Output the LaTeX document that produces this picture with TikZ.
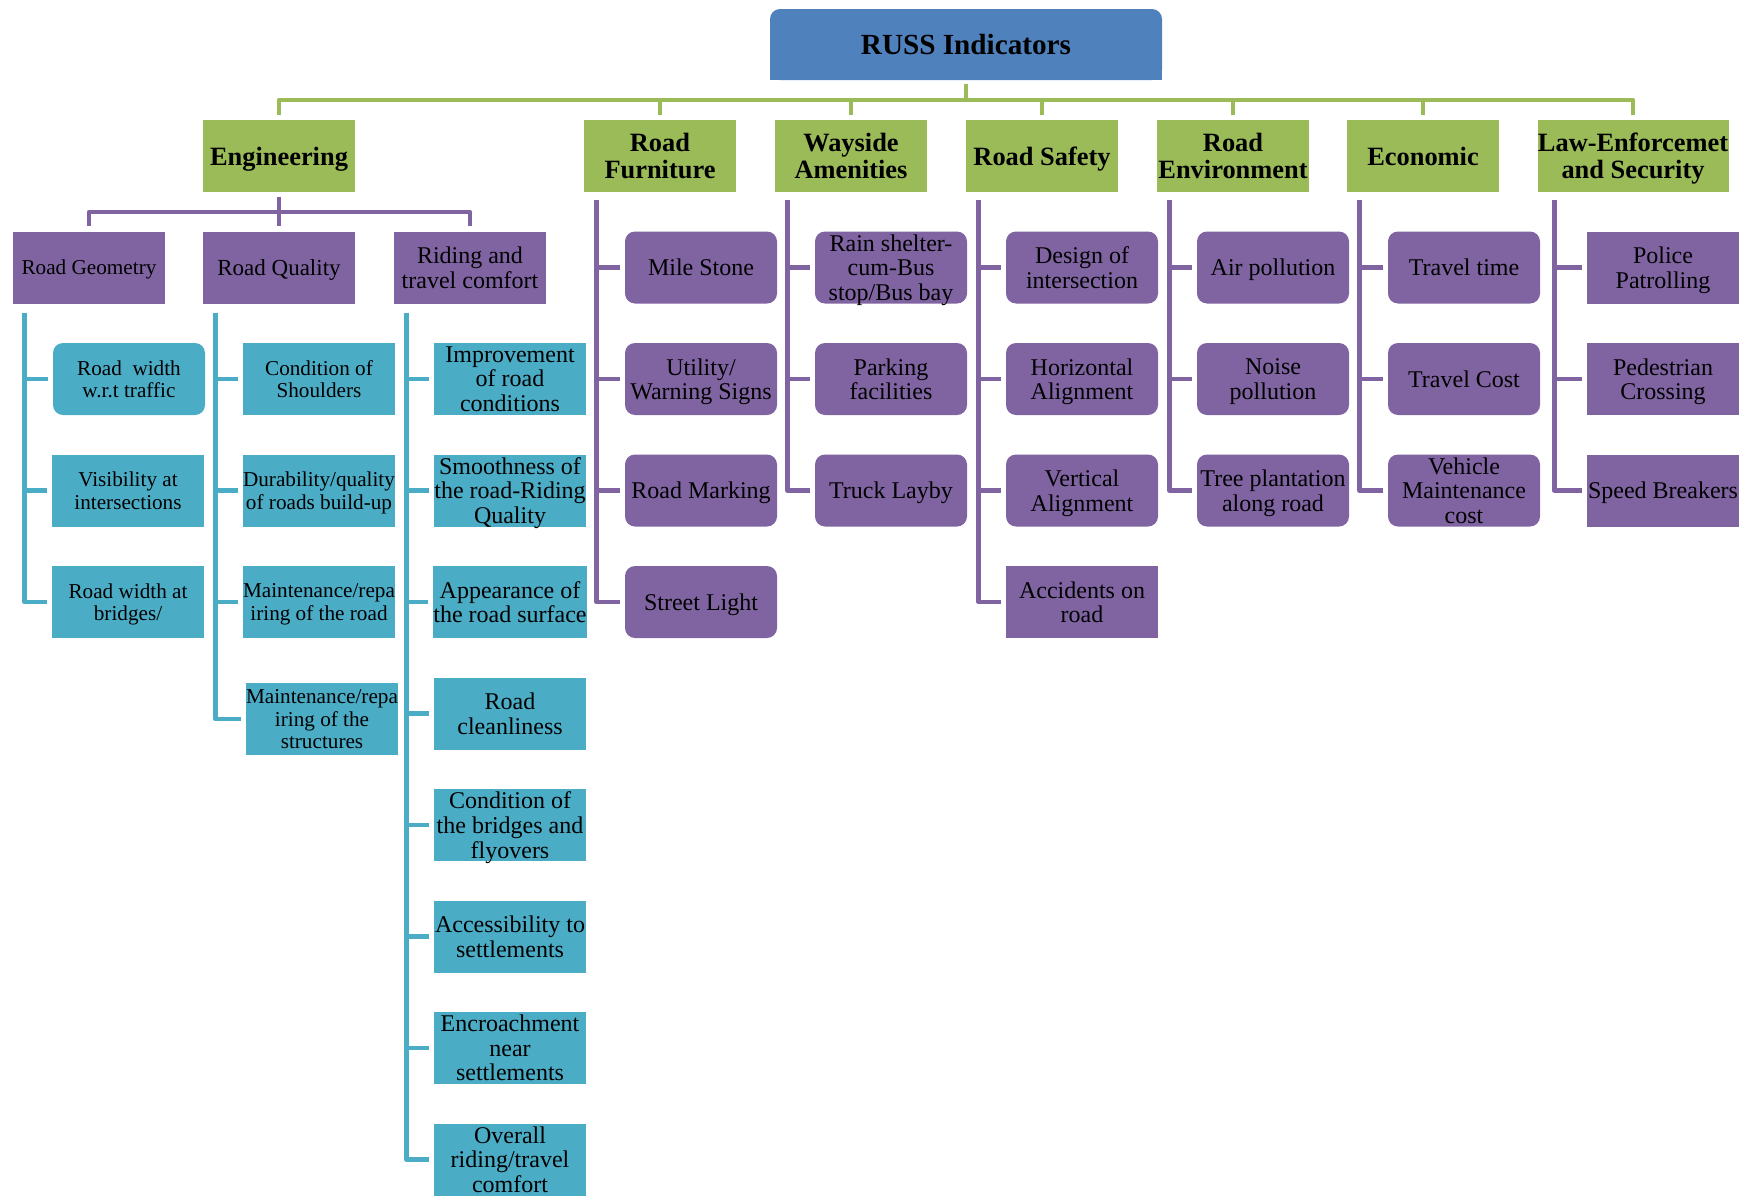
\documentclass[tikz,border=0pt]{standalone}
\usepackage{fontspec}
\setmainfont{Liberation Serif}
\usetikzlibrary{backgrounds}
\definecolor{rootcol}{HTML}{4F81BD}
\definecolor{grncol}{HTML}{9BBB59}
\definecolor{purcol}{HTML}{8064A2}
\definecolor{tealcol}{HTML}{4BACC6}
\tikzset{
  box/.style={inner sep=0pt, minimum width=76pt, minimum height=36pt, align=center, text=black, text depth=0pt},
  rootbox/.style={box, fill=rootcol, minimum width=196pt, minimum height=35.5pt, rounded corners=5pt, font=\fontsize{14.6}{15}\selectfont\bfseries},
  headbox/.style={box, fill=grncol, font=\fontsize{13.2}{13.4}\selectfont\bfseries},
  subbox/.style={box, fill=purcol, font=\fontsize{12}{12.4}\selectfont},
  itembox/.style={box, fill=purcol, rounded corners=5pt, font=\fontsize{12}{12.3}\selectfont},
  sqitembox/.style={box, fill=purcol, font=\fontsize{12}{12.3}\selectfont},
  bluebox/.style={box, fill=tealcol, font=\fontsize{12}{12.3}\selectfont},
  smalltext/.style={font=\fontsize{10.6}{11.2}\selectfont},
  gline/.style={draw=grncol, line width=2.4pt, line join=round},
  pline/.style={draw=purcol, line width=2.4pt, line join=round},
  tline/.style={draw=tealcol, line width=2.4pt, line join=round},
}
\begin{document}
\begin{tikzpicture}[x=0.5pt, y=-0.5pt]
\useasboundingbox (0,0) rectangle (1749,1199);
% top
\node[rootbox] (root) at (966,44.5) {RUSS Indicators};
\begin{scope}[on background layer]
\fill[rootcol] (root.west) rectangle (root.south east);
\end{scope}
% indicator groups
\node[headbox] (eng) at (279,156) {Engineering};
\node[headbox] (furn) at (660,156) {Road\\Furniture};
\node[headbox] (way) at (851,156) {Wayside\\Amenities};
\node[headbox] (safe) at (1042,156) {Road Safety};
\node[headbox] (env) at (1233,156) {Road\\Environment};
\node[headbox] (econ) at (1423,156) {Economic};
\node[headbox, minimum width=95.5pt] (law) at (1633,156) {Law-Enforcemet\\and Security};
\coordinate (rbar) at (966,100);
\draw[gline] ([yshift=-2pt]root.south) -- (rbar);
\draw[gline] (rbar) -| ([yshift=2.5pt]eng.north);
\draw[gline] (rbar) -| ([yshift=2.5pt]furn.north);
\draw[gline] (rbar) -| ([yshift=2.5pt]way.north);
\draw[gline] (rbar) -| ([yshift=2.5pt]safe.north);
\draw[gline] (rbar) -| ([yshift=2.5pt]env.north);
\draw[gline] (rbar) -| ([yshift=2.5pt]econ.north);
\draw[gline] (rbar) -| ([yshift=2.5pt]law.north);
% engineering
\node[subbox, smalltext] (geo) at (89,267.5) {Road Geometry};
\node[subbox, font=\fontsize{11.5}{12}\selectfont] (qual) at (279,267.5) {Road Quality};
\node[subbox] (ride) at (470,267.5) {Riding and\\travel comfort};
\coordinate (ebar) at (279,212);
\draw[pline] ([yshift=-2.5pt]eng.south) -- (ebar);
\draw[pline] (ebar) -| ([yshift=2.5pt]geo.north);
\draw[pline] (ebar) -| ([yshift=2.5pt]qual.north);
\draw[pline] (ebar) -| ([yshift=2.5pt]ride.north);
\node[bluebox, smalltext, rounded corners=5pt] (geo1) at (129,379) {Road~ width\\w.r.t traffic};
\node[bluebox, smalltext] (geo2) at (128,490.5) {Visibility at\\intersections};
\node[bluebox, smalltext] (geo3) at (128,602) {Road width at\\bridges/};
\node[bluebox, smalltext] (qual1) at (319,379) {Condition of\\Shoulders};
\node[bluebox, smalltext] (qual2) at (319,490.5) {Durability/quality\\of roads build-up};
\node[bluebox, smalltext] (qual3) at (319,602) {Maintenance/repa\\iring of the road};
\node[bluebox, smalltext] (qual4) at (322,719) {Maintenance/repa\\iring of the\\structures};
\node[bluebox] (ride1) at (510,379) {Improvement\\of road\\conditions};
\node[bluebox] (ride2) at (510,490.5) {Smoothness of\\the road-Riding\\Quality};
\node[bluebox] (ride3) at (510,602) {Appearance of\\the road surface};
\node[bluebox] (ride4) at (510,713.5) {Road\\cleanliness};
\node[bluebox] (ride5) at (510,825) {Condition of\\the bridges and\\flyovers};
\node[bluebox] (ride6) at (510,936.5) {Accessibility to\\settlements};
\node[bluebox] (ride7) at (510,1048) {Encroachment\\near\\settlements};
\node[bluebox] (ride8) at (510,1159.5) {Overall\\riding/travel\\comfort};
\draw[tline] ([xshift=6pt,yshift=-4.5pt]geo.south west) |- ([xshift=-2.5pt]geo1.west);
\draw[tline] ([xshift=6pt,yshift=-4.5pt]geo.south west) |- ([xshift=-2.5pt]geo2.west);
\draw[tline] ([xshift=6pt,yshift=-4.5pt]geo.south west) |- ([xshift=-2.5pt]geo3.west);
\draw[tline] ([xshift=6.5pt,yshift=-4.5pt]qual.south west) |- ([xshift=-2.5pt]qual1.west);
\draw[tline] ([xshift=6.5pt,yshift=-4.5pt]qual.south west) |- ([xshift=-2.5pt]qual2.west);
\draw[tline] ([xshift=6.5pt,yshift=-4.5pt]qual.south west) |- ([xshift=-2.5pt]qual3.west);
\draw[tline] ([xshift=6.5pt,yshift=-4.5pt]qual.south west) |- ([xshift=-2.5pt]qual4.west);
\draw[tline] ([xshift=6.5pt,yshift=-4.5pt]ride.south west) |- ([xshift=-2.5pt]ride1.west);
\draw[tline] ([xshift=6.5pt,yshift=-4.5pt]ride.south west) |- ([xshift=-2.5pt]ride2.west);
\draw[tline] ([xshift=6.5pt,yshift=-4.5pt]ride.south west) |- ([xshift=-2.5pt]ride3.west);
\draw[tline] ([xshift=6.5pt,yshift=-4.5pt]ride.south west) |- ([xshift=-2.5pt]ride4.west);
\draw[tline] ([xshift=6.5pt,yshift=-4.5pt]ride.south west) |- ([xshift=-2.5pt]ride5.west);
\draw[tline] ([xshift=6.5pt,yshift=-4.5pt]ride.south west) |- ([xshift=-2.5pt]ride6.west);
\draw[tline] ([xshift=6.5pt,yshift=-4.5pt]ride.south west) |- ([xshift=-2.5pt]ride7.west);
\draw[tline] ([xshift=6.5pt,yshift=-4.5pt]ride.south west) |- ([xshift=-2.5pt]ride8.west);
% road furniture
\node[itembox] (furn1) at (701,267.5) {Mile Stone};
\node[itembox] (furn2) at (701,379) {Utility/\\Warning Signs};
\node[itembox] (furn3) at (701,490.5) {Road Marking};
\node[itembox] (furn4) at (701,602) {Street Light};
\draw[pline] ([xshift=6.5pt,yshift=-4pt]furn.south west) |- ([xshift=-2.5pt]furn1.west);
\draw[pline] ([xshift=6.5pt,yshift=-4pt]furn.south west) |- ([xshift=-2.5pt]furn2.west);
\draw[pline] ([xshift=6.5pt,yshift=-4pt]furn.south west) |- ([xshift=-2.5pt]furn3.west);
\draw[pline] ([xshift=6.5pt,yshift=-4pt]furn.south west) |- ([xshift=-2.5pt]furn4.west);
% wayside amenities
\node[itembox] (way1) at (891,267.5) {Rain shelter-\\cum-Bus\\stop/Bus bay};
\node[itembox] (way2) at (891,379) {Parking\\facilities};
\node[itembox] (way3) at (891,490.5) {Truck Layby};
\draw[pline] ([xshift=6.5pt,yshift=-4pt]way.south west) |- ([xshift=-2.5pt]way1.west);
\draw[pline] ([xshift=6.5pt,yshift=-4pt]way.south west) |- ([xshift=-2.5pt]way2.west);
\draw[pline] ([xshift=6.5pt,yshift=-4pt]way.south west) |- ([xshift=-2.5pt]way3.west);
% road safety
\node[itembox] (safe1) at (1082,267.5) {Design of\\intersection};
\node[itembox] (safe2) at (1082,379) {Horizontal\\Alignment};
\node[itembox] (safe3) at (1082,490.5) {Vertical\\Alignment};
\node[sqitembox] (safe4) at (1082,602) {Accidents on\\road};
\draw[pline] ([xshift=6.5pt,yshift=-4pt]safe.south west) |- ([xshift=-2.5pt]safe1.west);
\draw[pline] ([xshift=6.5pt,yshift=-4pt]safe.south west) |- ([xshift=-2.5pt]safe2.west);
\draw[pline] ([xshift=6.5pt,yshift=-4pt]safe.south west) |- ([xshift=-2.5pt]safe3.west);
\draw[pline] ([xshift=6.5pt,yshift=-4pt]safe.south west) |- ([xshift=-2.5pt]safe4.west);
% road environment
\node[itembox] (env1) at (1273,267.5) {Air pollution};
\node[itembox] (env2) at (1273,379) {Noise\\pollution};
\node[itembox] (env3) at (1273,490.5) {Tree plantation\\along road};
\draw[pline] ([xshift=6.5pt,yshift=-4pt]env.south west) |- ([xshift=-2.5pt]env1.west);
\draw[pline] ([xshift=6.5pt,yshift=-4pt]env.south west) |- ([xshift=-2.5pt]env2.west);
\draw[pline] ([xshift=6.5pt,yshift=-4pt]env.south west) |- ([xshift=-2.5pt]env3.west);
% economic
\node[itembox] (econ1) at (1464,267.5) {Travel time};
\node[itembox] (econ2) at (1464,379) {Travel Cost};
\node[itembox] (econ3) at (1464,490.5) {Vehicle\\Maintenance\\cost};
\draw[pline] ([xshift=6.5pt,yshift=-4pt]econ.south west) |- ([xshift=-2.5pt]econ1.west);
\draw[pline] ([xshift=6.5pt,yshift=-4pt]econ.south west) |- ([xshift=-2.5pt]econ2.west);
\draw[pline] ([xshift=6.5pt,yshift=-4pt]econ.south west) |- ([xshift=-2.5pt]econ3.west);
% law enforcement
\node[sqitembox] (law1) at (1663,267.5) {Police\\Patrolling};
\node[sqitembox] (law2) at (1663,379) {Pedestrian\\Crossing};
\node[sqitembox] (law3) at (1663,490.5) {Speed Breakers};
\draw[pline] ([xshift=8.5pt,yshift=-4pt]law.south west) |- ([xshift=-2.5pt]law1.west);
\draw[pline] ([xshift=8.5pt,yshift=-4pt]law.south west) |- ([xshift=-2.5pt]law2.west);
\draw[pline] ([xshift=8.5pt,yshift=-4pt]law.south west) |- ([xshift=-2.5pt]law3.west);
\end{tikzpicture}
\end{document}
